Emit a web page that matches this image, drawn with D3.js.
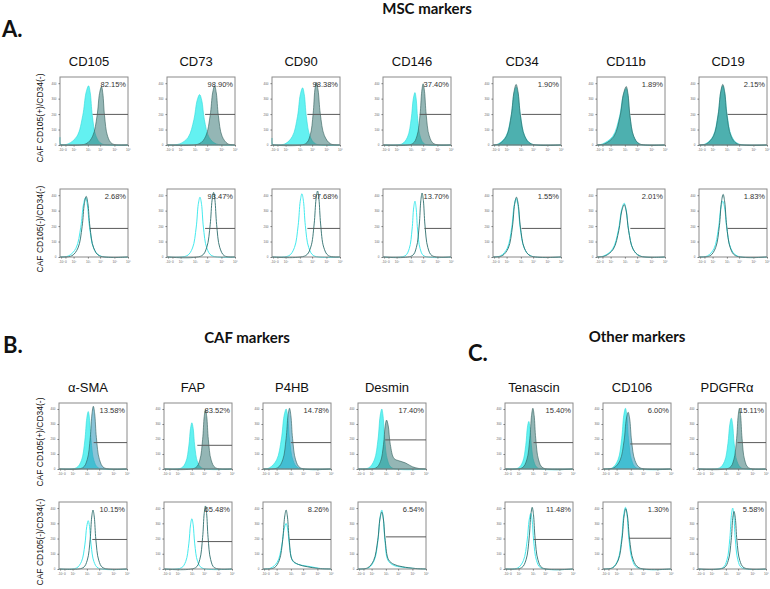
<!DOCTYPE html>
<html>
<head>
<meta charset="utf-8">
<script src="https://cdn.jsdelivr.net/npm/d3@7"></script>
<style>
  body { margin: 0; background: #fff; }
  svg { display: block; }
</style>
</head>
<body>
<div id="chart"></div>
<script>
// ---- data (channel 0-1000, counts) ----
const mscMarkers = ["CD105", "CD73", "CD90", "CD146", "CD34", "CD11b", "CD19"];
const cafMarkers = ["α-SMA", "FAP", "P4HB", "Desmin"];
const otherMarkers = ["Tenascin", "CD106", "PDGFRα"];

const rowLabels = ["CAF CD105(+)/CD34(-)", "CAF CD105(-)/CD34(-)"];
const xTickValues = [16, 80, 200, 410, 590, 800, 1000];
const xTickLabels = ["-10²", "0", "10²", "10³", "10⁴", "10⁵", "10⁶"];
const yTickValues = [0, 100, 200, 300, 400];

// percent positive
const mscPctPos = ["82.15%", "98.90%", "98.38%", "37.40%", "1.90%", "1.89%", "2.15%"];
const mscPctNeg = ["2.68%", "93.47%", "97.68%", "13.70%", "1.55%", "2.01%", "1.83%"];
const cafPctPos = ["13.58%", "83.52%", "14.78%", "17.40%"];
const cafPctNeg = ["10.15%", "65.48%", "8.26%", "6.54%"];
const otherPctPos = ["15.40%", "6.00%", "15.11%"];
const otherPctNeg = ["11.48%", "1.30%", "5.58%"];

// gate [start channel, count]
const mscGatePos = [[480, 198], [560, 198], [520, 198], [540, 198], [420, 198], [490, 198], [420, 198]];
const mscGateNeg = [[440, 185], [560, 185], [520, 185], [610, 185], [420, 185], [490, 185], [420, 185]];
const cafGatePos = [[510, 176], [490, 158], [410, 176], [400, 194]];
const cafGateNeg = [[490, 194], [490, 180], [390, 194], [410, 211]];
const otherGatePos = [[420, 176], [400, 167], [580, 176]];
const otherGateNeg = [[420, 194], [380, 202], [580, 194]];

// control (cyan) and stained (teal) histograms, [channel, count]
const mscCtrlPos = [
  [[0, 50], [12, 5], [122, 8], [250, 57], [335, 192], [382, 337], [420, 383], [445, 337], [475, 192], [530, 57], [613, 8]],
  [[183, 7], [310, 49], [395, 163], [442, 287], [480, 326], [512, 287], [550, 163], [620, 49], [725, 7]],
  [[0, 45], [12, 5], [188, 7], [300, 56], [375, 185], [416, 326], [450, 370], [475, 326], [505, 185], [560, 56], [643, 7]],
  [[278, 7], [360, 51], [415, 170], [445, 298], [470, 339], [488, 298], [510, 170], [550, 51], [610, 7]],
  [[78, 7], [190, 56], [265, 187], [306, 329], [340, 374], [369, 329], [405, 187], [470, 56], [568, 7]],
  [[80, 7], [230, 55], [330, 183], [385, 321], [430, 365], [455, 321], [485, 183], [540, 55], [623, 7]],
  [[98, 8], [206, 57], [278, 192], [318, 337], [350, 383], [379, 337], [415, 192], [480, 57], [578, 8]]
];
const mscSamplePos = [
  [[383, 8], [480, 57], [545, 189], [581, 333], [610, 378], [630, 333], [655, 189], [700, 57], [768, 8]],
  [[473, 8], [570, 57], [635, 192], [671, 337], [700, 383], [725, 337], [755, 192], [810, 57], [893, 8]],
  [[493, 8], [560, 61], [605, 203], [630, 356], [650, 405], [677, 356], [710, 203], [770, 61], [860, 8]],
  [[433, 8], [500, 59], [545, 198], [570, 348], [590, 396], [610, 348], [635, 198], [680, 59], [748, 8]],
  [[95, 8], [200, 59], [270, 196], [309, 345], [340, 392], [368, 345], [402, 196], [464, 59], [557, 8]],
  [[115, 8], [250, 57], [340, 189], [390, 333], [430, 378], [455, 333], [485, 189], [540, 57], [623, 8]],
  [[112, 8], [214, 59], [282, 196], [319, 345], [350, 392], [377, 345], [410, 196], [470, 59], [560, 8]]
];
const mscCtrlNeg = [
  [[130, 8], [235, 57], [305, 192], [344, 337], [375, 383], [402, 337], [435, 192], [495, 57], [585, 8]],
  [[293, 8], [375, 58], [430, 194], [460, 341], [485, 387], [508, 341], [535, 194], [585, 58], [660, 8]],
  [[248, 8], [330, 61], [385, 205], [415, 360], [440, 409], [463, 360], [490, 205], [540, 61], [615, 8]],
  [[323, 7], [386, 54], [428, 181], [451, 318], [470, 361], [487, 318], [508, 181], [546, 54], [603, 7]],
  [[113, 8], [210, 57], [275, 189], [311, 333], [340, 378], [367, 333], [400, 189], [460, 57], [550, 8]],
  [[103, 7], [230, 52], [315, 174], [362, 306], [400, 348], [429, 306], [465, 174], [530, 52], [628, 7]],
  [[123, 7], [220, 54], [285, 181], [321, 318], [350, 361], [377, 318], [410, 181], [470, 54], [560, 7]]
];
const mscSampleNeg = [
  [[175, 8], [265, 59], [325, 196], [358, 345], [385, 392], [410, 345], [440, 196], [495, 59], [578, 8]],
  [[510, 8], [585, 63], [635, 209], [663, 368], [685, 418], [705, 368], [730, 209], [775, 63], [843, 8]],
  [[495, 9], [570, 64], [620, 214], [648, 376], [670, 427], [690, 376], [715, 214], [760, 64], [828, 9]],
  [[428, 8], [491, 62], [533, 207], [556, 364], [575, 414], [594, 364], [617, 207], [659, 62], [722, 8]],
  [[135, 8], [225, 58], [285, 194], [318, 341], [345, 387], [371, 341], [403, 194], [461, 58], [548, 8]],
  [[120, 7], [240, 51], [320, 170], [364, 298], [400, 339], [429, 298], [465, 170], [530, 51], [628, 7]],
  [[163, 8], [245, 61], [300, 203], [330, 356], [355, 405], [378, 356], [407, 203], [459, 61], [537, 8]]
];

const cafCtrlPos = [
  [[255, 8], [330, 57], [380, 192], [408, 337], [430, 383], [449, 337], [472, 192], [514, 57], [577, 8]],
  [[253, 6], [320, 46], [365, 154], [390, 271], [410, 308], [429, 271], [452, 154], [494, 46], [557, 6]],
  [[95, 8], [200, 60], [270, 200], [309, 352], [340, 400], [363, 352], [390, 200], [440, 60], [515, 8]],
  [[158, 8], [240, 60], [295, 200], [325, 352], [350, 400], [369, 352], [392, 200], [434, 60], [497, 8]]
];
const cafSamplePos = [
  [[348, 8], [415, 63], [460, 209], [485, 368], [505, 418], [525, 368], [550, 209], [595, 63], [663, 8]],
  [[463, 8], [526, 59], [568, 198], [591, 348], [610, 396], [629, 348], [652, 198], [694, 59], [757, 8]],
  [[215, 8], [290, 61], [340, 203], [368, 356], [390, 405], [410, 356], [435, 203], [480, 61], [548, 8]],
  [[263, 7], [330, 49], [375, 163], [400, 287], [420, 326], [445, 287], [475, 163], [530, 70], [600, 55], [700, 40], [800, 15], [900, 3]]
];
const cafCtrlNeg = [
  [[255, 6], [330, 48], [380, 158], [408, 279], [430, 317], [449, 279], [472, 158], [514, 48], [577, 6]],
  [[253, 7], [320, 50], [365, 165], [390, 290], [410, 330], [429, 290], [452, 165], [494, 50], [557, 7]],
  [[113, 6], [210, 45], [275, 150], [311, 263], [340, 299], [363, 263], [390, 150], [440, 50], [520, 30], [700, 15], [850, 3]],
  [[158, 8], [240, 58], [295, 194], [325, 341], [350, 387], [370, 341], [395, 194], [440, 58], [520, 25], [650, 12], [850, 3]]
];
const cafSampleNeg = [
  [[353, 8], [416, 58], [458, 194], [481, 341], [500, 387], [519, 341], [542, 194], [584, 58], [647, 8]],
  [[463, 8], [526, 62], [568, 207], [591, 364], [610, 414], [627, 364], [648, 207], [686, 62], [743, 8]],
  [[165, 8], [240, 58], [290, 194], [318, 341], [340, 387], [360, 341], [385, 194], [430, 60], [520, 30], [650, 15], [820, 3]],
  [[140, 7], [230, 56], [290, 187], [323, 329], [350, 374], [373, 329], [400, 187], [450, 60], [530, 30], [650, 15], [850, 3]]
];

const otherCtrlPos = [
  [[193, 6], [260, 48], [305, 158], [330, 279], [350, 317], [367, 279], [388, 158], [426, 48], [483, 6]],
  [[138, 8], [220, 61], [275, 203], [305, 356], [330, 405], [350, 356], [375, 203], [420, 61], [488, 8]],
  [[315, 7], [390, 51], [440, 170], [468, 298], [490, 339], [509, 298], [532, 170], [574, 51], [637, 7]]
];
const otherSamplePos = [
  [[253, 8], [320, 61], [365, 203], [390, 356], [410, 405], [429, 356], [452, 203], [494, 61], [557, 8]],
  [[160, 8], [250, 57], [310, 189], [343, 333], [370, 378], [393, 333], [420, 189], [470, 57], [545, 8]],
  [[463, 8], [526, 61], [568, 203], [591, 356], [610, 405], [627, 356], [648, 203], [686, 61], [743, 8]]
];
const otherCtrlNeg = [
  [[188, 7], [270, 55], [325, 183], [355, 321], [380, 365], [399, 321], [422, 183], [464, 55], [527, 7]],
  [[138, 8], [220, 61], [275, 203], [305, 356], [330, 405], [353, 356], [380, 203], [430, 61], [505, 8]],
  [[363, 8], [426, 60], [468, 200], [491, 352], [510, 400], [527, 352], [548, 200], [586, 60], [643, 8]]
];
const otherSampleNeg = [
  [[243, 8], [310, 61], [355, 203], [380, 356], [400, 405], [419, 356], [442, 203], [484, 61], [547, 8]],
  [[143, 8], [225, 59], [280, 198], [310, 348], [335, 396], [360, 348], [390, 198], [445, 59], [528, 8]],
  [[383, 8], [446, 57], [488, 189], [511, 333], [530, 378], [549, 333], [572, 189], [614, 57], [677, 8]]
];

// ---- layout ----
const W = 770, H = 589;
const boxW = 68;
const ctrlColor = "#52efef";
const sampleColor = "#3c7a78";
const blueTone = new Set(["α-SMA", "P4HB", "CD106"]);

const svg = d3.select("#chart").append("svg")
  .attr("width", W).attr("height", H);

const x = d3.scaleLinear().domain([0, 1000]).range([0, boxW]);

function drawPanel(left, top, h, name, ctrl, sample, gate, pct, filled, showTitle) {
  const y = d3.scaleLinear().domain([0, 440]).range([h, 0]);
  const g = svg.append("g").attr("transform", `translate(${left},${top})`);

  if (showTitle) {
    g.append("text")
      .attr("x", boxW / 2 - 5).attr("y", -11)
      .attr("text-anchor", "middle")
      .attr("font-family", "Liberation Sans, Arial, sans-serif")
      .attr("font-size", 13).attr("fill", "#111")
      .text(name);
  }

  const pts = d => [[0, 0], ...d, [1000, 0]];
  const curve = d3.curveCatmullRom.alpha(0.5);
  const area = d3.area().x(d => x(d[0])).y0(h).y1(d => Math.min(h, y(d[1]))).curve(curve);
  const line = d3.line().x(d => x(d[0])).y(d => y(d[1])).curve(curve);

  const sCol = blueTone.has(name) ? "#2a93b8" : sampleColor;
  if (filled) {
    g.append("path").attr("d", area(pts(ctrl)))
      .attr("fill", ctrlColor).attr("fill-opacity", 0.9)
      .attr("stroke", "#2bdada").attr("stroke-width", 0.6);
    g.append("path").attr("d", area(pts(sample)))
      .attr("fill", sCol).attr("fill-opacity", 0.55)
      .attr("stroke", "#2d5a58").attr("stroke-width", 0.6);
  } else {
    g.append("path").attr("d", line(pts(ctrl)))
      .attr("fill", "none").attr("stroke", "#45eaee").attr("stroke-width", 1);
    g.append("path").attr("d", line(pts(sample)))
      .attr("fill", "none").attr("stroke", "#2f6e6d").attr("stroke-width", 0.9);
  }

  // frame
  g.append("rect").attr("width", boxW).attr("height", h)
    .attr("fill", "none").attr("stroke", "#8a8a8a").attr("stroke-width", 1);

  // gate
  g.append("line")
    .attr("x1", x(gate[0])).attr("x2", x(1000))
    .attr("y1", y(gate[1])).attr("y2", y(gate[1]))
    .attr("stroke", "#5a5a5a").attr("stroke-width", 1);

  g.append("text")
    .attr("x", boxW - 2).attr("y", 10)
    .attr("text-anchor", "end")
    .attr("font-family", "Liberation Sans, Arial, sans-serif")
    .attr("font-size", 7.5).attr("fill", "#333")
    .text(pct);

  // axes
  const yAxis = d3.axisLeft(y).tickValues(yTickValues).tickSize(1.5).tickPadding(2);
  const ya = g.append("g").call(yAxis);
  ya.select(".domain").remove();
  ya.selectAll("line").attr("stroke", "#777");
  ya.selectAll("text").attr("font-size", 3).attr("fill", "#666")
    .attr("font-family", "Liberation Sans, Arial, sans-serif");

  const xAxis = d3.axisBottom(x).tickValues(xTickValues)
    .tickFormat((d, i) => xTickLabels[i]).tickSize(1.5).tickPadding(2);
  const xa = g.append("g").attr("transform", `translate(0,${h})`).call(xAxis);
  xa.select(".domain").remove();
  xa.selectAll("line").attr("stroke", "#777");
  xa.selectAll("text").attr("font-size", 3.2).attr("fill", "#666")
    .attr("font-family", "Liberation Sans, Arial, sans-serif");
}

function drawGroup(names, lefts, tops, heights, ctrlP, sampP, gateP, pctP, ctrlN, sampN, gateN, pctN) {
  names.forEach((n, i) => {
    drawPanel(lefts[i], tops[0], heights[0], n, ctrlP[i], sampP[i], gateP[i], pctP[i], true, true);
    drawPanel(lefts[i], tops[1], heights[1], n, ctrlN[i], sampN[i], gateN[i], pctN[i], false, false);
  });
}

drawGroup(mscMarkers, [60, 167, 272, 383, 493, 597, 699], [77, 189], [68, 68],
  mscCtrlPos, mscSamplePos, mscGatePos, mscPctPos, mscCtrlNeg, mscSampleNeg, mscGateNeg, mscPctNeg);
drawGroup(cafMarkers, [59, 164, 263, 358], [403, 502], [66, 67],
  cafCtrlPos, cafSamplePos, cafGatePos, cafPctPos, cafCtrlNeg, cafSampleNeg, cafGateNeg, cafPctNeg);
drawGroup(otherMarkers, [505, 603, 698], [403, 502], [66, 67],
  otherCtrlPos, otherSamplePos, otherGatePos, otherPctPos, otherCtrlNeg, otherSampleNeg, otherGateNeg, otherPctNeg);

// row labels
function rowLabel(cx, cy, t) {
  svg.append("text")
    .attr("transform", `translate(${cx},${cy}) rotate(-90)`)
    .attr("text-anchor", "middle")
    .attr("font-family", "Liberation Sans, Arial, sans-serif")
    .attr("font-size", 8.5).attr("fill", "#111")
    .text(t);
}
rowLabel(43, 118, rowLabels[0]);
rowLabel(43, 229, rowLabels[1]);
rowLabel(43, 442, rowLabels[0]);
rowLabel(43, 542, rowLabels[1]);

// section headers and panel letters
function header(xp, yp, t, size, anchor) {
  svg.append("text")
    .attr("x", xp).attr("y", yp)
    .attr("text-anchor", anchor)
    .attr("font-family", "Lato, Open Sans, sans-serif")
    .attr("font-weight", 700)
    .attr("font-size", size).attr("fill", "#111")
    .text(t);
}
header(427, 14, "MSC markers", 15, "middle");
header(247, 343, "CAF markers", 15, "middle");
header(637, 342, "Other markers", 15, "middle");
header(2, 37, "A.", 22, "start");
header(3, 353, "B.", 22, "start");
header(468, 361, "C.", 22, "start");
</script>
</body>
</html>
